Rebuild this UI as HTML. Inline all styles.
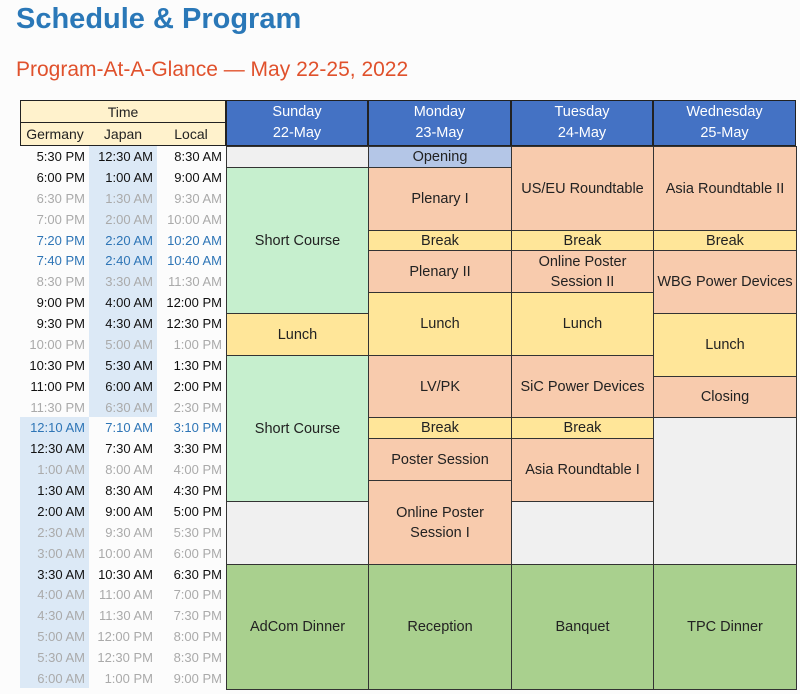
<!DOCTYPE html>
<html><head><meta charset="utf-8">
<style>
body{margin:0;background:#fcfcfc;width:800px;height:694px;overflow:hidden;position:relative;font-family:"Liberation Sans",sans-serif;}
h1{position:absolute;left:16px;top:3px;margin:0;font-size:29px;font-weight:bold;color:#2a78b8;}
h2{position:absolute;left:16px;top:58px;margin:0;font-size:21px;font-weight:normal;color:#e0512c;}
.c{position:absolute;box-sizing:border-box;display:flex;align-items:center;justify-content:center;text-align:center;font-size:14px;color:#222;line-height:20px;}
.t{position:absolute;font-size:13px;text-align:right;line-height:21px;}
</style></head><body>
<h1>Schedule &amp; Program</h1>
<h2>Program-At-A-Glance — May 22-25, 2022</h2>
<div id="tbl"></div>
<script>
const germany=["5:30 PM","6:00 PM","6:30 PM","7:00 PM","7:20 PM","7:40 PM","8:30 PM","9:00 PM","9:30 PM","10:00 PM","10:30 PM","11:00 PM","11:30 PM","12:10 AM","12:30 AM","1:00 AM","1:30 AM","2:00 AM","2:30 AM","3:00 AM","3:30 AM","4:00 AM","4:30 AM","5:00 AM","5:30 AM","6:00 AM"];
const japan=["12:30 AM","1:00 AM","1:30 AM","2:00 AM","2:20 AM","2:40 AM","3:30 AM","4:00 AM","4:30 AM","5:00 AM","5:30 AM","6:00 AM","6:30 AM","7:10 AM","7:30 AM","8:00 AM","8:30 AM","9:00 AM","9:30 AM","10:00 AM","10:30 AM","11:00 AM","11:30 AM","12:00 PM","12:30 PM","1:00 PM"];
const local=["8:30 AM","9:00 AM","9:30 AM","10:00 AM","10:20 AM","10:40 AM","11:30 AM","12:00 PM","12:30 PM","1:00 PM","1:30 PM","2:00 PM","2:30 PM","3:10 PM","3:30 PM","4:00 PM","4:30 PM","5:00 PM","5:30 PM","6:00 PM","6:30 PM","7:00 PM","7:30 PM","8:00 PM","8:30 PM","9:00 PM"];
const rowKind="bbggxxgbbgbbgxbgbbggbggggg";
const days=["Sunday","Monday","Tuesday","Wednesday"];
const dates=["22-May","23-May","24-May","25-May"];
const sessions=[
[[0,1,"","blank"],[1,7,"Short Course","course"],[8,2,"Lunch","meal"],[10,7,"Short Course","course"],[17,3,"","blank"],[20,6,"AdCom Dinner","dinner"]],
[[0,1,"Opening","open"],[1,3,"Plenary I","talk"],[4,1,"Break","meal"],[5,2,"Plenary II","talk"],[7,3,"Lunch","meal"],[10,3,"LV/PK","talk"],[13,1,"Break","meal"],[14,2,"Poster Session","talk"],[16,4,"Online Poster<br>Session I","talk"],[20,6,"Reception","dinner"]],
[[0,4,"US/EU Roundtable","talk"],[4,1,"Break","meal"],[5,2,"Online Poster<br>Session II","talk"],[7,3,"Lunch","meal"],[10,3,"SiC Power Devices","talk"],[13,1,"Break","meal"],[14,3,"Asia Roundtable I","talk"],[17,3,"","blank"],[20,6,"Banquet","dinner"]],
[[0,4,"Asia Roundtable II","talk"],[4,1,"Break","meal"],[5,3,"WBG Power Devices","talk"],[8,3,"Lunch","meal"],[11,2,"Closing","talk"],[13,7,"","blank"],[20,6,"TPC Dinner","dinner"]]
];
const colors={blank:"#f0f0f0",course:"#c6efce",meal:"#ffe699",dinner:"#a9d08e",open:"#b4c6e7",talk:"#f8cbad"};
const txtColor={b:"#111",g:"#aaa",x:"#2e75b6"};
const T=document.getElementById('tbl');
const y0=146,rh=20.88,dx=[226,368,511,653,796],tx=[20,89,157,226];
function mk(cls,x,y,w,h,html,bg,border){const d=document.createElement('div');d.className=cls;d.style.left=x+'px';d.style.top=y+'px';d.style.width=w+'px';d.style.height=h+'px';if(bg)d.style.background=bg;if(border)d.style.border=border;d.innerHTML=html;T.appendChild(d);return d;}
let h=mk('c',20,100,206,23,'Time','#fff2cc','1px solid #222');


["Germany","Japan","Local"].forEach((n,i)=>{const e=mk('c',tx[i],122,tx[i+1]-tx[i],24,n,'#fff2cc','1px solid #222');e.style.borderLeft=i?'none':'1px solid #222';e.style.borderRight=i==2?'1px solid #222':'none';

});
let s1=mk('c',89,146,68,Math.round(13*rh),'','#dce9f6');


let s2=mk('c',20,Math.round(y0+13*rh),69,Math.round(13*rh),'','#dce9f6');


[germany,japan,local].forEach((arr,ci)=>{arr.forEach((v,r)=>{const e=mk('t',tx[ci],y0+r*rh,tx[ci+1]-tx[ci]-4,rh,v);e.style.color=txtColor[rowKind[r]];

});});
days.forEach((d,i)=>{const e=mk('c',dx[i],100,dx[i+1]-dx[i],46,d+'<br>'+dates[i],'#4472c4','1px solid #222');e.style.color='#fff';e.style.lineHeight='21px';e.style.fontSize='14.5px';

});
sessions.forEach((col,i)=>{col.forEach(s=>{const y=y0+s[0]*rh;const e=mk('c',dx[i],Math.round(y),dx[i+1]-dx[i]+1,Math.round(y0+(s[0]+s[1])*rh)-Math.round(y)+1,s[2],colors[s[3]],'1px solid #333');e.style.fontSize='14.5px';

});});
</script>
</body></html>
